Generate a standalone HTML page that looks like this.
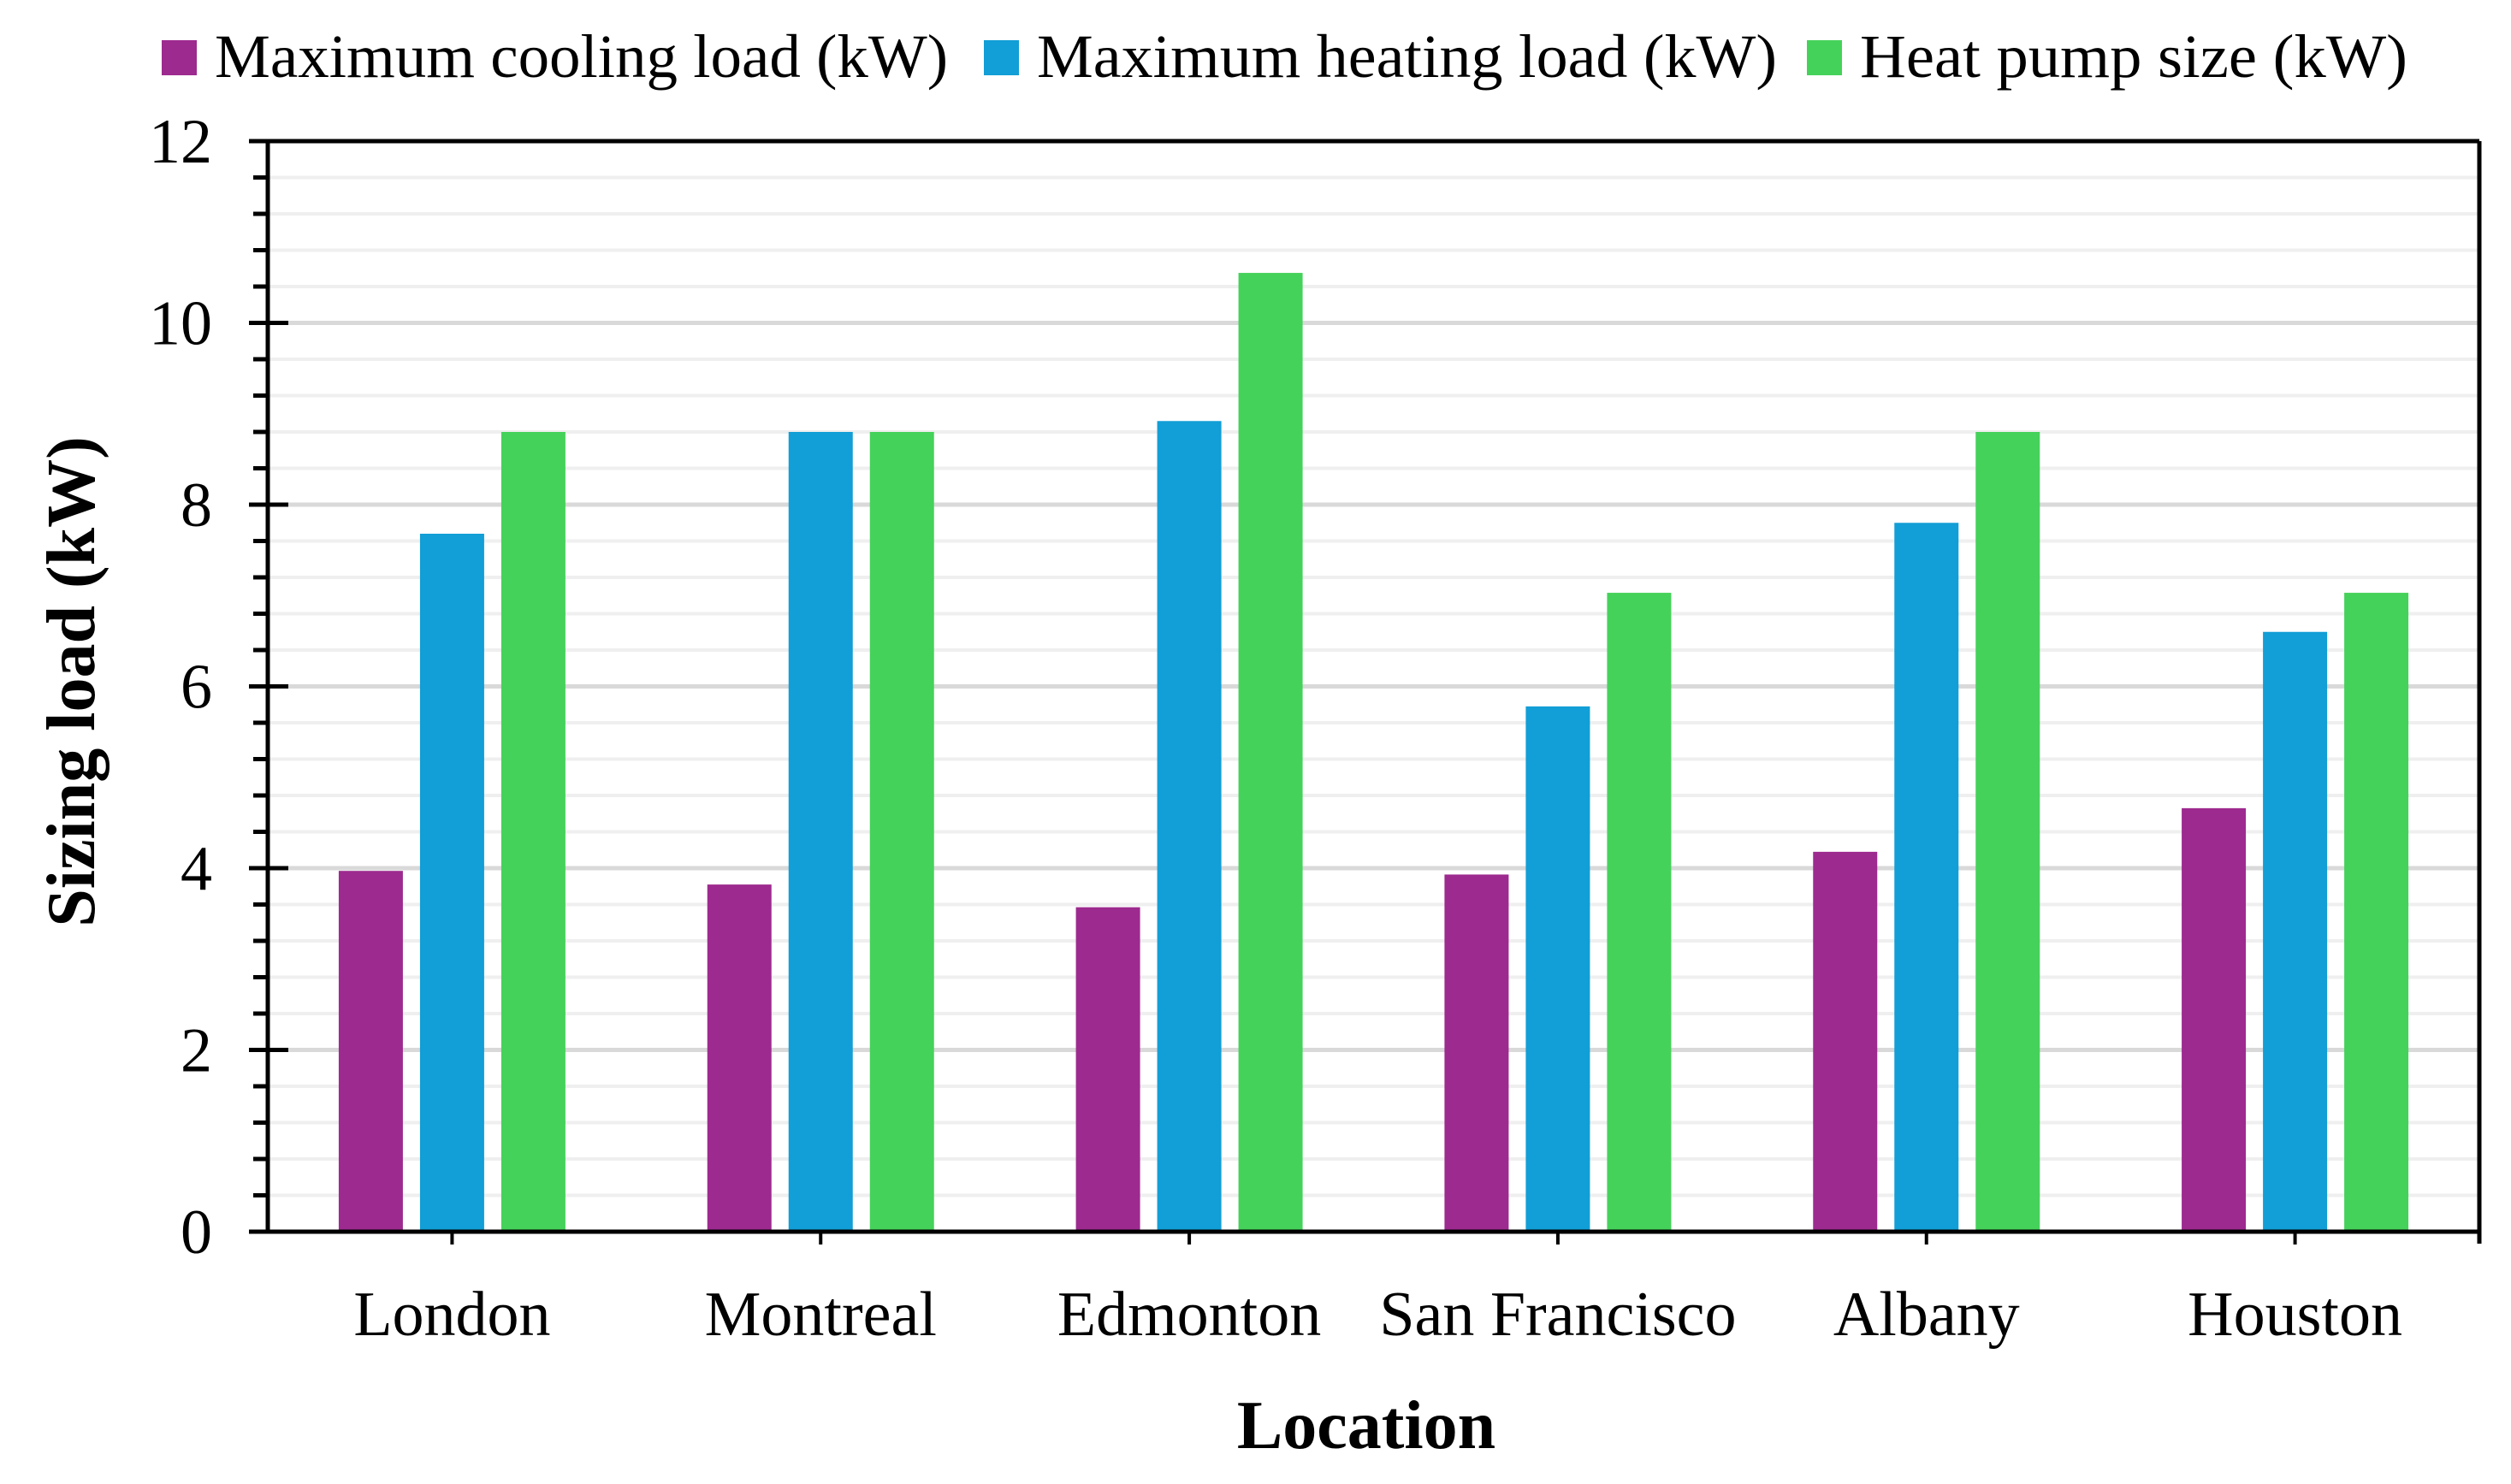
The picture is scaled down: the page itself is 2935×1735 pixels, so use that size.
<!DOCTYPE html>
<html><head><meta charset="utf-8"><style>
html,body{margin:0;padding:0;background:#fff;}
svg{display:block;font-family:"Liberation Serif",serif;}
</style></head><body>
<svg id="chart" width="2935" height="1735" viewBox="0 0 2935 1735" xmlns="http://www.w3.org/2000/svg">
<g id="grid"></g>
<g id="bars"></g>
<g id="axes"></g>
<g id="legend"></g>
<text x="0" y="0" transform="translate(110,797) rotate(-90)" text-anchor="middle" font-size="80" font-weight="bold">Sizing load (kW)</text>
<text x="1597" y="1693" text-anchor="middle" font-size="80" font-weight="bold">Location</text>
</svg>
<script>
const categories = ["London","Montreal","Edmonton","San Francisco","Albany","Houston"];
const coolingLoad = [3.97,3.82,3.57,3.93,4.18,4.66];
const heatingLoad = [7.68,8.8,8.92,5.78,7.8,6.6];
const heatPumpSize = [8.8,8.8,10.55,7.03,8.8,7.03];
const yTicks = [0,2,4,6,8,10,12];
const seriesNames = ["Maximum cooling load (kW)","Maximum heating load (kW)","Heat pump size (kW)"];

const NS="http://www.w3.org/2000/svg";
const L=313,R=2898,T=165,B=1440,yMax=12;
const y=v=>B-(v/yMax)*(B-T);
const bandW=(R-L)/categories.length;
const xc=i=>L+(i+0.5)*bandW;
const colors=["#9D2A8F","#129ED6","#45D25A"];
const barW=75, step=95;
function mk(tag,attrs,parent){const e=document.createElementNS(NS,tag);for(const k in attrs)e.setAttribute(k,attrs[k]);parent.appendChild(e);return e;}
const grid=document.getElementById('grid'),bars=document.getElementById('bars'),axes=document.getElementById('axes'),legend=document.getElementById('legend');
for(let v=0;v<=yMax+1e-9;v+=0.4){
  const major=Math.abs(v/2-Math.round(v/2))<1e-6;
  const g=mk('line',{x1:L,x2:R,y1:y(v),y2:y(v),stroke:major?'#d9d9d9':'#efefef','stroke-width':major?5:4},grid);
  
  
  const t=mk('line',{x1:major?291:296,x2:major?337:L,y1:y(v),y2:y(v),stroke:'#000','stroke-width':5},axes);
  
  
}
const series=[coolingLoad,heatingLoad,heatPumpSize];
const snames=['cooling','heating','heat-pump'];
series.forEach((s,si)=>{
  s.forEach((v,i)=>{
    const cx=xc(i)+(si-1)*step;
    const r=mk('rect',{x:cx-barW/2,y:y(v),width:barW,height:B-y(v),fill:colors[si]},bars);
    
    
  });
});
[[291,B,R,B],[291,T,R,T],[L,T,L,B],[R,T,R,B+14]].forEach((c,k)=>{
  const a=mk('line',{x1:c[0],y1:c[1],x2:c[2],y2:c[3],stroke:'#000','stroke-width':5},axes);
  
  
});
yTicks.forEach(v=>{
  const t=mk('text',{x:248,y:y(v)+25,'text-anchor':'end','font-size':74},axes);
  t.textContent=v;
  
  
});
categories.forEach((c,i)=>{
  const tk=mk('line',{x1:xc(i),x2:xc(i),y1:B,y2:B+15,stroke:'#000','stroke-width':4},axes);
  
  
  const t=mk('text',{x:xc(i),y:1561,'text-anchor':'middle','font-size':74},axes);
  t.textContent=c;
  
  
});
const legX=[189,1150,2112], legW=[857,865,640];
seriesNames.forEach((n,i)=>{
  const r=mk('rect',{x:legX[i],y:47,width:41,height:41,fill:colors[i]},legend);
  
  
  const t=mk('text',{x:legX[i]+62,y:90,'font-size':72,textLength:legW[i],lengthAdjust:'spacingAndGlyphs'},legend);
  t.textContent=n;
  
  
});
</script>
</body></html>
